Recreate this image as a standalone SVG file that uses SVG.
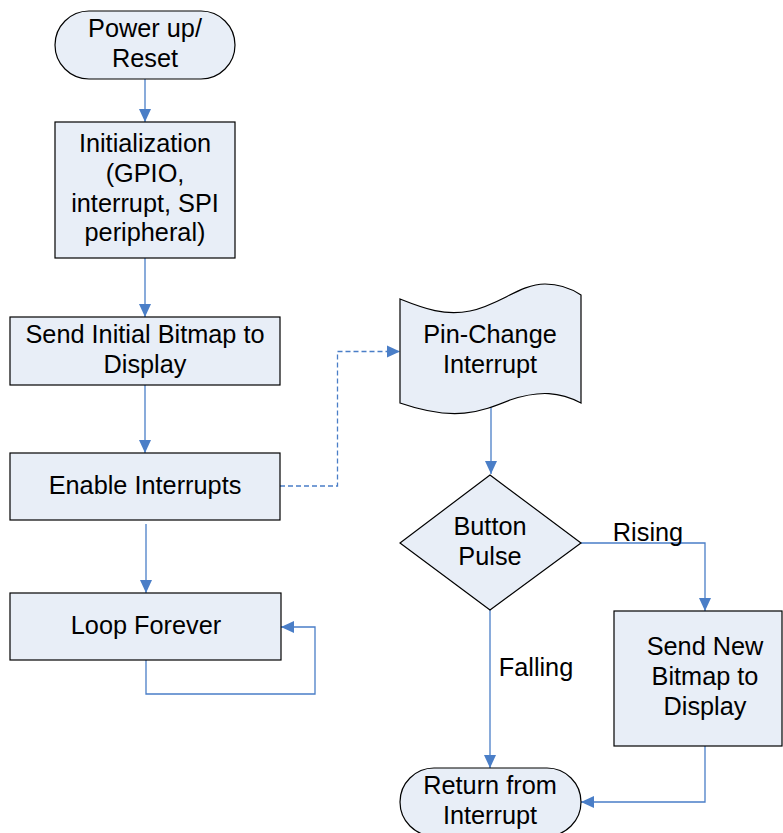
<svg xmlns="http://www.w3.org/2000/svg" width="783" height="833" viewBox="0 0 783 833">
<style>
.shape{fill:#E8EEF7;stroke:#000;stroke-width:1.2}
.t{font-family:"Liberation Sans",Arial,sans-serif;font-size:25.3px;fill:#000;text-anchor:middle}
.c{fill:none;stroke:#4A7EC7;stroke-width:1.3}
.d{stroke-dasharray:5,3}
</style>
<defs>
<marker id="ah" markerUnits="userSpaceOnUse" markerWidth="14" markerHeight="14" refX="13" refY="7" orient="auto">
<path d="M0,1 L13,7 L0,13 z" fill="#4A7EC7"/>
</marker>
</defs>
<rect width="783" height="833" fill="#fff"/>
<g id="connectors">
<path class="c" d="M145,79 V122" marker-end="url(#ah)"/>
<path class="c" d="M145,258 V317" marker-end="url(#ah)"/>
<path class="c" d="M145,385 V453" marker-end="url(#ah)"/>
<path class="c" d="M146,524 V593" marker-end="url(#ah)"/>
<path class="c" d="M146,660 V694 H315 V627 H281" marker-end="url(#ah)"/>
<path class="c d" d="M280,486 H337.5 V351.5 H400" marker-end="url(#ah)"/>
<path class="c" d="M491,405 V474" marker-end="url(#ah)"/>
<path class="c" d="M581,543 H705 V611" marker-end="url(#ah)"/>
<path class="c" d="M490,610 V768" marker-end="url(#ah)"/>
<path class="c" d="M705,746 V802 H581" marker-end="url(#ah)"/>
</g>
<g id="power">
<rect class="shape" x="55" y="11" width="180" height="68" rx="34" ry="34"/>
<text class="t" x="145" y="37">Power up/</text>
<text class="t" x="145" y="67">Reset</text>
</g>
<g id="init">
<rect class="shape" x="55" y="122" width="180" height="136"/>
<text class="t" x="145" y="152">Initialization</text>
<text class="t" x="145" y="182">(GPIO,</text>
<text class="t" x="145" y="212">interrupt, SPI</text>
<text class="t" x="145" y="241">peripheral)</text>
</g>
<g id="sendinit">
<rect class="shape" x="10" y="317" width="270" height="68"/>
<text class="t" x="145" y="343">Send Initial Bitmap to</text>
<text class="t" x="145" y="373">Display</text>
</g>
<g id="enable">
<rect class="shape" x="10" y="453" width="270" height="67"/>
<text class="t" x="145" y="494">Enable Interrupts</text>
</g>
<g id="loop">
<rect class="shape" x="10" y="593" width="271" height="67"/>
<text class="t" x="146" y="634">Loop Forever</text>
</g>
<g id="pinchange">
<path class="shape" d="M400,299 C425,309 445,316 470,311 C500,305 520,284 545,284 C560,284 572,289 581,295 V403 C560,392 540,390 510,400 C480,412 455,422 400,403 Z"/>
<text class="t" x="490" y="343">Pin-Change</text>
<text class="t" x="490" y="373">Interrupt</text>
</g>
<g id="button">
<path class="shape" d="M490,475 L581,543 L490,610 L400,543 Z"/>
<text class="t" x="490" y="535">Button</text>
<text class="t" x="490" y="565">Pulse</text>
</g>
<g id="sendnew">
<rect class="shape" x="614" y="611" width="168" height="135"/>
<text class="t" x="705" y="655">Send New</text>
<text class="t" x="705" y="685">Bitmap to</text>
<text class="t" x="705" y="715">Display</text>
</g>
<g id="return">
<rect class="shape" x="400" y="768" width="181" height="68" rx="34" ry="34"/>
<text class="t" x="490" y="794">Return from</text>
<text class="t" x="490" y="824">Interrupt</text>
</g>
<g id="labels">
<text class="t" x="648" y="541">Rising</text>
<text class="t" x="536" y="676">Falling</text>
</g>
</svg>
